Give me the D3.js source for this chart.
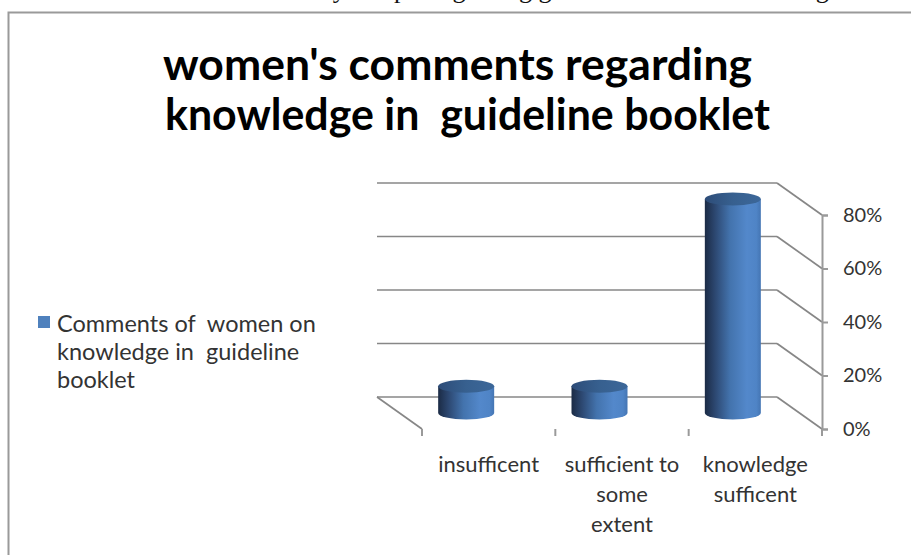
<!DOCTYPE html>
<html><head><meta charset="utf-8">
<script src="https://cdn.jsdelivr.net/npm/d3@7"></script>
<style>
html,body{margin:0;padding:0;background:#fff;overflow:hidden}
svg{display:block}
text{white-space:pre}
</style></head>
<body>
<svg id="c" width="911" height="555"></svg>
<script>
// ---- data ----
const categories = ["insufficent", "sufficient to some extent", "knowledge sufficent"];
const categoryLines = [["insufficent"], ["sufficient to", "some", "extent"], ["knowledge", "sufficent"]];
const values = [10, 10, 80];
const yTicks = [0, 20, 40, 60, 80];
const titleLines = ["women's comments regarding", "knowledge in  guideline booklet"];
const legendLines = ["Comments of  women on", "knowledge in  guideline", "booklet"];
const captionText = "Comments of women in the study sample regarding guideline booklet knowledge sufficiency ,";

const svg = d3.select("#c");
const font = "Lato, 'Open Sans', sans-serif";

// cut-off caption above the chart frame (only descenders visible in the reference)
svg.append("text").attr("x", -6).attr("y", -2)
  .attr("font-family", "'Liberation Serif', serif").attr("font-size", 26)
  .attr("fill", "#111").text(captionText);

// frame
svg.append("rect").attr("x", 8.5).attr("y", 12.5).attr("width", 1000).attr("height", 1000)
  .attr("fill", "#fff").attr("stroke", "#9a9a9a").attr("stroke-width", 2);

// title
const titleX = [163, 165], titleW = [589, 605];
titleLines.forEach((t, i) => {
  svg.append("text").attr("x", titleX[i]).attr("y", 80 + i * 50)
    .attr("font-family", font).attr("font-weight", "bold")
    .attr("font-size", 44).attr("fill", "#000")
    .attr("textLength", titleW[i]).attr("lengthAdjust", "spacingAndGlyphs").text(t);
});

// 3D geometry
const front = {x0: 422, x1: 822, y0: 429, y1: 215};
const depth = {dx: -45, dy: -32};
const x = d3.scaleBand().domain(categories).range([front.x0, front.x1]).padding(0);
const y = d3.scaleLinear().domain([0, 80]).range([front.y0, front.y1]);

// gradients
const defs = svg.append("defs");
const g1 = defs.append("linearGradient").attr("id", "body").attr("x1", 0).attr("x2", 1).attr("y1", 0).attr("y2", 0);
[[0, "#1b2b45"], [0.18, "#2c4770"], [0.45, "#4373ad"], [0.75, "#5388cb"], [0.92, "#4f84c6"], [1, "#4475b3"]]
  .forEach(([o, c]) => g1.append("stop").attr("offset", o).attr("stop-color", c));
const g2 = defs.append("linearGradient").attr("id", "top").attr("x1", 0).attr("x2", 1).attr("y1", 0).attr("y2", 0);
[[0, "#2d4c78"], [0.5, "#37608f"], [1, "#3c6799"]]
  .forEach(([o, c]) => g2.append("stop").attr("offset", o).attr("stop-color", c));

const grid = svg.append("g").attr("stroke", "#878787").attr("stroke-width", 1.7).attr("fill", "none");
yTicks.forEach(t => {
  const yf = y(t), yb = yf + depth.dy;
  grid.append("line").attr("x1", front.x0 + depth.dx).attr("x2", front.x1 + depth.dx)
    .attr("y1", yb).attr("y2", yb);
  grid.append("line").attr("x1", front.x1 + depth.dx).attr("y1", yb)
    .attr("x2", front.x1).attr("y2", yf);
});
grid.append("line").attr("x1", front.x0 + depth.dx).attr("y1", y(0) + depth.dy)
  .attr("x2", front.x0).attr("y2", y(0));

// y axis on the front right
const yAxis = svg.append("g").attr("transform", `translate(${front.x1},0)`)
  .call(d3.axisRight(y).tickValues(yTicks).tickFormat(d => d + "%").tickSize(6).tickPadding(15));
yAxis.select(".domain").attr("stroke", "#9a9a9a").attr("stroke-width", 2);
yAxis.selectAll(".tick line").attr("stroke", "#9a9a9a").attr("stroke-width", 2);
yAxis.selectAll(".tick text").attr("font-family", font).attr("font-size", 20).attr("fill", "#333");

// bottom ticks at category boundaries
const bounds = categories.map(c => x(c)).concat([front.x1]);
svg.append("g").selectAll("line").data(bounds).join("line")
  .attr("x1", d => d).attr("x2", d => d).attr("y1", front.y0).attr("y2", front.y0 + 7)
  .attr("stroke", "#9a9a9a").attr("stroke-width", 2);

// category labels
categories.forEach((c, i) => {
  const cx = x(c) + x.bandwidth() / 2;
  categoryLines[i].forEach((ln, j) => {
    svg.append("text").attr("x", cx).attr("y", 472 + j * 30).attr("text-anchor", "middle")
      .attr("font-family", font).attr("font-size", 22).attr("fill", "#333").text(ln);
  });
});

// cylinders
const rx = 28, ry = 6.5;
const bars = svg.append("g");
categories.forEach((c, i) => {
  const cx = x(c) + x.bandwidth() / 2 + depth.dx / 2;
  const yb = y(0) + depth.dy / 2;
  const yt = y(values[i]) + depth.dy / 2;
  const path = `M${cx - rx},${yt} L${cx - rx},${yb} A${rx},${ry} 0 0 0 ${cx + rx},${yb} L${cx + rx},${yt} Z`;
  bars.append("path").attr("d", path).attr("fill", "url(#body)");
  bars.append("ellipse").attr("cx", cx).attr("cy", yt).attr("rx", rx).attr("ry", ry)
    .attr("fill", "url(#top)");
});

// legend
svg.append("rect").attr("x", 38).attr("y", 316).attr("width", 12).attr("height", 12).attr("fill", "#4f81bd");
legendLines.forEach((t, i) => {
  svg.append("text").attr("x", 57).attr("y", 332 + i * 28).attr("font-family", font)
    .attr("font-size", 23.5).attr("fill", "#333").text(t);
});
</script>
</body></html>
